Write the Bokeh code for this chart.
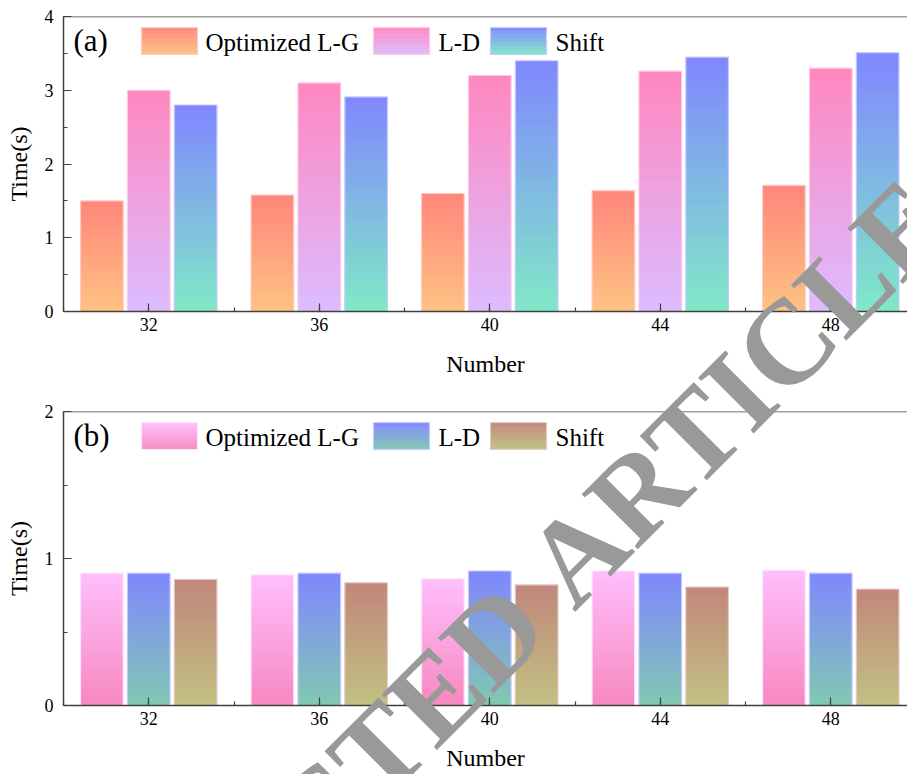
import math
from bokeh.plotting import figure
from bokeh.layouts import column
from bokeh.models import Range1d, SingleIntervalTicker, Span, Label
from bokeh.embed import file_html
from bokeh.resources import INLINE

# ---------------- data ----------------
numbers = [32, 36, 40, 44, 48]
series_names = ["Optimized L-G", "L-D", "Shift"]

a_opt_lg = [1.50, 1.58, 1.60, 1.64, 1.71]
a_ld = [3.00, 3.10, 3.20, 3.26, 3.30]
a_shift = [2.80, 2.91, 3.40, 3.45, 3.51]

b_opt_lg = [0.90, 0.888, 0.862, 0.915, 0.92]
b_ld = [0.90, 0.90, 0.915, 0.90, 0.90]
b_shift = [0.858, 0.835, 0.82, 0.806, 0.792]

# ---------------- style ----------------
FONT = "Liberation Serif"
AXIS_COL = "#404040"
W = 907
FL, FR = 63, 907          # frame left / right (px)
X0, X1 = 30.0, 49.8
OFFSETS = [-1.1, 0.0, 1.1]
BAR_W = 1.0
NSLICE = 40

# (top colour, bottom colour)
a_colors = [("#ff867b", "#fec283"), ("#ff87bf", "#dcbcff"), ("#8087ff", "#80e9c6")]
b_colors = [("#ffbffc", "#f788c0"), ("#8087ff", "#80c9b1"), ("#c1877b", "#c1c182")]


def h2rgb(h):
    h = h.lstrip("#")
    return tuple(int(h[i:i + 2], 16) for i in (0, 2, 4))


def mix(c_bot, c_top, t):
    a, b = h2rgb(c_bot), h2rgb(c_top)
    r = [round(a[i] + (b[i] - a[i]) * t) for i in range(3)]
    return "#%02x%02x%02x" % tuple(r)


def tint(c, t=0.55):
    return mix(c, "#ffffff", t)


def gradient_slices(left, right, y0, y1, ctop, cbot):
    """Split a bar [y0, y1] into overlapping slices (drawn bottom to top)."""
    L, R, B, T, C = [], [], [], [], []
    h = y1 - y0
    for k in range(NSLICE):
        L.append(left)
        R.append(right)
        B.append(y0 + h * k / NSLICE)
        T.append(min(y1, y0 + h * (k + 1.6) / NSLICE))
        C.append(mix(cbot, ctop, (k + 0.5) / NSLICE))
    return L, R, B, T, C


def make_panel(tag, H, top, bottom, ymax, series, colors):
    p = figure(width=W, height=H, x_range=Range1d(X0, X1), y_range=Range1d(0, ymax),
               output_backend="svg", toolbar_location=None,
               min_border_left=FL, min_border_right=0,
               min_border_top=top, min_border_bottom=H - bottom)
    p.outline_line_color = None
    p.grid.visible = False

    xs = (FR - FL) / (X1 - X0)
    ys = (bottom - top) / ymax

    def px2x(px):
        return X0 + (px - FL) / xs

    def py2y(py):
        return (bottom - py) / ys

    # gradient bars
    for vals, off, (ctop, cbot) in zip(series, OFFSETS, colors):
        L, R, B, T, C = [], [], [], [], []
        for n, v in zip(numbers, vals):
            l, r, b, t, c = gradient_slices(n + off - BAR_W / 2, n + off + BAR_W / 2, 0, v, ctop, cbot)
            L += l; R += r; B += b; T += t; C += c
        p.quad(left=L, right=R, bottom=B, top=T, fill_color=C, line_color=None)
        p.vbar(x=[n + off for n in numbers], width=BAR_W, top=vals, fill_color=None,
               line_color=tint(ctop), line_width=1.2)

    # axes
    p.xaxis.ticker = SingleIntervalTicker(interval=4, num_minor_ticks=2)
    p.yaxis.ticker = SingleIntervalTicker(interval=1, num_minor_ticks=2)
    for ax in (p.xaxis[0], p.yaxis[0]):
        ax.axis_line_color = AXIS_COL
        ax.axis_line_width = 1.5
        ax.major_tick_line_color = AXIS_COL
        ax.minor_tick_line_color = AXIS_COL
        ax.major_tick_line_width = 1.2
        ax.minor_tick_line_width = 1.2
        ax.major_tick_in = 8
        ax.major_tick_out = 0
        ax.minor_tick_in = 4
        ax.minor_tick_out = 0
        ax.major_label_text_font = FONT
        ax.major_label_text_font_size = "18px"
        ax.major_label_text_color = "black"
        ax.axis_label_text_font = FONT
        ax.axis_label_text_font_size = "24px"
        ax.axis_label_text_font_style = "normal"
        ax.axis_label_text_color = "black"
    p.xaxis.axis_label = "Number"
    p.yaxis.axis_label = "Time(s)"
    p.xaxis.major_label_standoff = 6
    p.xaxis.axis_label_standoff = 17
    p.yaxis.major_label_standoff = 10
    p.yaxis.axis_label_standoff = 10

    p.add_layout(Span(location=ymax, dimension="width", line_color=AXIS_COL, line_width=1.5))

    # panel tag + legend (anchored at the middle of the capitals)
    base = top + 34
    p.add_layout(Label(x=px2x(73), y=py2y(base - 0.3375 * 31), text=tag, text_font=FONT,
                       text_font_size="31px", text_baseline="middle", text_color="black"))
    sw = [(141, 197, 205), (373, 429, 438), (490, 546, 555)]
    for name, (ctop, cbot), (sx0, sx1, tx) in zip(series_names, colors, sw):
        y_hi, y_lo = py2y(top + 11), py2y(top + 38)
        L, R, B, T, C = gradient_slices(px2x(sx0), px2x(sx1), y_lo, y_hi, ctop, cbot)
        p.quad(left=L, right=R, bottom=B, top=T, fill_color=C, line_color=None)
        p.quad(left=[px2x(sx0)], right=[px2x(sx1)], bottom=[y_lo], top=[y_hi],
               fill_color=None, line_color=tint(ctop), line_width=1.2)
        p.add_layout(Label(x=px2x(tx), y=py2y(base - 0.3375 * 25), text=name, text_font=FONT,
                           text_font_size="25px", text_baseline="middle", text_color="black"))
    return p


H1, H2 = 390, 384
p1 = make_panel("(a)", H1, 16, 311, 4, [a_opt_lg, a_ld, a_shift], a_colors)
p2 = make_panel("(b)", H2, 21, 315, 2, [b_opt_lg, b_ld, b_shift], b_colors)
layout = column(p1, p2, spacing=0)

# ---------------- watermark overlay (page pixel coordinates) ----------------
WM_START = (574, 612)   # start of "ARTICLE" on its baseline
WM_ANGLE = 45
WM_SIZE = 120
wm = figure(width=W, height=H1 + H2, x_range=Range1d(0, W), y_range=Range1d(H1 + H2, 0),
            output_backend="svg", toolbar_location=None, x_axis_type=None, y_axis_type=None,
            min_border=0, outline_line_color=None,
            background_fill_alpha=0, border_fill_alpha=0,
            styles={"position": "absolute", "left": "0px", "top": "0px",
                    "pointer-events": "none", "z-index": "10"})
wm.grid.visible = False
ang = math.radians(WM_ANGLE)
ux, uy = math.cos(ang), -math.sin(ang)       # along the baseline (page px, y down)
vx, vy = -math.sin(ang), -math.cos(ang)      # towards the letter tops
mid = 0.3375 * WM_SIZE
ax0 = WM_START[0] + vx * mid
ay0 = WM_START[1] + vy * mid
gap = 0.25 * WM_SIZE
for txt, x, y, align in [("ARTICLE", ax0, ay0, "left"),
                         ("RETRACTED", ax0 - gap * ux, ay0 - gap * uy, "right")]:
    wm.add_layout(Label(x=x, y=y, text=txt, text_font=FONT, text_font_style="bold",
                        text_font_size="%dpx" % WM_SIZE, text_baseline="middle",
                        text_align=align, angle=WM_ANGLE, angle_units="deg",
                        text_color="#999999"))

open("out.html", "w").write(file_html([layout, wm], INLINE))
